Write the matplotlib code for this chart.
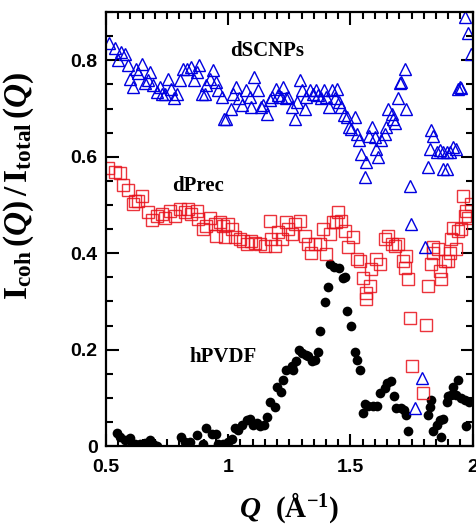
import matplotlib
matplotlib.use("Agg")
import matplotlib.pyplot as plt
from matplotlib.ticker import MultipleLocator

# dSCNPs (blue triangles)
q_scnp = [0.514, 0.537, 0.550, 0.560, 0.578, 0.591, 0.598, 0.612, 0.625, 0.632,
          0.646, 0.659, 0.673, 0.680, 0.693, 0.707, 0.721, 0.728, 0.741, 0.755,
          0.768, 0.778, 0.792, 0.802, 0.816, 0.832, 0.846, 0.860, 0.873, 0.882,
          0.891, 0.905, 0.911, 0.925, 0.939, 0.950, 0.959, 0.973, 0.982, 0.993,
          1.010, 1.020, 1.031, 1.045, 1.055, 1.072, 1.089, 1.095, 1.106, 1.120,
          1.136, 1.143, 1.157, 1.170, 1.181, 1.195, 1.204, 1.218, 1.225, 1.236,
          1.245, 1.259, 1.272, 1.282, 1.293, 1.300, 1.313, 1.320, 1.334, 1.347,
          1.358, 1.368, 1.381, 1.391, 1.402, 1.413, 1.426, 1.436, 1.445, 1.454,
          1.463, 1.473, 1.484, 1.495, 1.504, 1.518, 1.527, 1.535, 1.545, 1.559,
          1.565, 1.576, 1.590, 1.599, 1.606, 1.613, 1.627, 1.640, 1.647, 1.654,
          1.668, 1.674, 1.681, 1.695, 1.702, 1.708, 1.722, 1.729, 1.742, 1.749,
          1.763, 1.794, 1.804, 1.818, 1.824, 1.831, 1.838, 1.852, 1.865, 1.879,
          1.879, 1.893, 1.893, 1.906, 1.920, 1.933, 1.940, 1.947, 1.954, 1.967,
          1.981, 1.991]
r_scnp = [0.835, 0.825, 0.801, 0.818, 0.814, 0.790, 0.762, 0.745, 0.783, 0.773,
          0.792, 0.752, 0.759, 0.775, 0.748, 0.735, 0.745, 0.731, 0.731, 0.762,
          0.741, 0.721, 0.731, 0.759, 0.783, 0.783, 0.787, 0.759, 0.776, 0.790,
          0.731, 0.731, 0.748, 0.762, 0.780, 0.755, 0.738, 0.724, 0.679, 0.678,
          0.700, 0.731, 0.745, 0.721, 0.707, 0.738, 0.724, 0.703, 0.766, 0.738,
          0.703, 0.707, 0.689, 0.717, 0.724, 0.741, 0.728, 0.724, 0.745, 0.721,
          0.724, 0.703, 0.679, 0.714, 0.759, 0.738, 0.700, 0.724, 0.738, 0.731,
          0.738, 0.728, 0.721, 0.738, 0.724, 0.703, 0.738, 0.721, 0.741, 0.714,
          0.703, 0.686, 0.682, 0.662, 0.658, 0.682, 0.648, 0.634, 0.606, 0.558,
          0.589, 0.644, 0.662, 0.641, 0.617, 0.600, 0.634, 0.648, 0.662, 0.700,
          0.689, 0.679, 0.669, 0.721, 0.752, 0.755, 0.783, 0.700, 0.540, 0.460,
          0.078, 0.141, 0.412, 0.578, 0.617, 0.655, 0.644, 0.610, 0.613, 0.610,
          0.575, 0.610, 0.575, 0.610, 0.620, 0.617, 0.741, 0.745, 0.743, 0.890,
          0.856, 0.814]

# dPrec (red squares)
q_prec = [0.510, 0.537, 0.557, 0.571, 0.591, 0.612, 0.619, 0.632, 0.646, 0.673,
          0.687, 0.707, 0.728, 0.741, 0.762, 0.782, 0.802, 0.823, 0.837, 0.850,
          0.871, 0.877, 0.898, 0.911, 0.925, 0.946, 0.952, 0.966, 0.980, 0.986,
          1.000, 1.014, 1.027, 1.048, 1.061, 1.075, 1.095, 1.109, 1.129, 1.150,
          1.170, 1.177, 1.191, 1.204, 1.222, 1.236, 1.245, 1.259, 1.272, 1.293,
          1.313, 1.327, 1.337, 1.354, 1.375, 1.388, 1.402, 1.416, 1.429, 1.443,
          1.450, 1.463, 1.477, 1.490, 1.511, 1.525, 1.538, 1.552, 1.565, 1.565,
          1.579, 1.586, 1.606, 1.620, 1.640, 1.654, 1.668, 1.681, 1.695, 1.715,
          1.722, 1.729, 1.736, 1.742, 1.753, 1.797, 1.808, 1.818, 1.831, 1.838,
          1.838, 1.858, 1.865, 1.872, 1.886, 1.899, 1.906, 1.913, 1.920, 1.933,
          1.940, 1.954, 1.960, 1.967, 1.974, 1.981, 1.991]
r_prec = [0.576, 0.568, 0.567, 0.542, 0.530, 0.502, 0.509, 0.509, 0.519, 0.486,
          0.469, 0.478, 0.481, 0.474, 0.488, 0.478, 0.492, 0.485, 0.492, 0.481,
          0.488, 0.471, 0.450, 0.457, 0.474, 0.460, 0.436, 0.464, 0.457, 0.433,
          0.460, 0.450, 0.433, 0.429, 0.426, 0.419, 0.426, 0.422, 0.419, 0.415,
          0.467, 0.429, 0.415, 0.443, 0.429, 0.464, 0.450, 0.439, 0.460, 0.467,
          0.436, 0.419, 0.400, 0.419, 0.419, 0.450, 0.398, 0.439, 0.464, 0.464,
          0.485, 0.467, 0.446, 0.412, 0.433, 0.387, 0.384, 0.349, 0.318, 0.304,
          0.332, 0.367, 0.387, 0.377, 0.429, 0.436, 0.419, 0.415, 0.419, 0.384,
          0.370, 0.394, 0.346, 0.266, 0.167, 0.111, 0.252, 0.332, 0.377, 0.401,
          0.412, 0.408, 0.363, 0.346, 0.384, 0.384, 0.401, 0.429, 0.453, 0.408,
          0.446, 0.450, 0.519, 0.478, 0.488, 0.474, 0.502]

# hPVDF (black circles)
q_pvdf = [0.544, 0.557, 0.578, 0.598, 0.605, 0.619, 0.639, 0.659, 0.680, 0.693,
          0.707, 0.809, 0.823, 0.843, 0.873, 0.898, 0.911, 0.932, 0.950, 0.959,
          0.980, 1.000, 1.014, 1.027, 1.041, 1.055, 1.075, 1.089, 1.102, 1.116,
          1.132, 1.147, 1.157, 1.170, 1.191, 1.198, 1.218, 1.225, 1.238, 1.259,
          1.265, 1.279, 1.290, 1.300, 1.317, 1.327, 1.341, 1.354, 1.368, 1.375,
          1.397, 1.409, 1.416, 1.432, 1.454, 1.469, 1.477, 1.486, 1.504, 1.518,
          1.525, 1.541, 1.552, 1.559, 1.572, 1.593, 1.609, 1.620, 1.640, 1.650,
          1.664, 1.677, 1.688, 1.708, 1.718, 1.729, 1.736, 1.818, 1.824, 1.831,
          1.838, 1.852, 1.865, 1.872, 1.879, 1.893, 1.899, 1.913, 1.920, 1.933,
          1.940, 1.954, 1.967, 1.974, 1.985]
r_pvdf = [0.028, 0.019, 0.012, 0.016, 0.002, 0.004, 0.005, 0.007, 0.012, 0.005,
          0.001, 0.019, 0.009, 0.009, 0.023, 0.005, 0.037, 0.026, 0.024, 0.004,
          0.004, 0.009, 0.014, 0.037, 0.033, 0.044, 0.054, 0.057, 0.044, 0.047,
          0.041, 0.044, 0.061, 0.092, 0.082, 0.123, 0.113, 0.137, 0.158, 0.165,
          0.158, 0.176, 0.200, 0.193, 0.189, 0.186, 0.176, 0.179, 0.196, 0.238,
          0.299, 0.329, 0.377, 0.372, 0.370, 0.349, 0.351, 0.280, 0.248, 0.196,
          0.179, 0.158, 0.068, 0.087, 0.083, 0.083, 0.083, 0.110, 0.120, 0.130,
          0.134, 0.103, 0.078, 0.078, 0.075, 0.064, 0.031, 0.064, 0.082, 0.096,
          0.032, 0.044, 0.054, 0.019, 0.057, 0.092, 0.103, 0.106, 0.123, 0.106,
          0.137, 0.099, 0.096, 0.041, 0.092]

x_ticks = [0.5, 1.0, 1.5, 2.0]
x_ticklabels = ['0.5', '1', '1.5', '2']
y_ticks = [0, 0.2, 0.4, 0.6, 0.8]
y_ticklabels = ['0', '0.2', '0.4', '0.6', '0.8']

plt.rcParams['mathtext.fontset'] = 'custom'
plt.rcParams['mathtext.rm'] = 'Liberation Serif:bold'
plt.rcParams['mathtext.it'] = 'Liberation Serif:bold:italic'
plt.rcParams['mathtext.bf'] = 'Liberation Serif:bold'

fig = plt.figure(figsize=(4.77, 5.26), dpi=100)
ax = fig.add_axes([0.222, 0.152, 0.769, 0.825])

ax.plot(q_pvdf, r_pvdf, 'o', color='black', ms=7, mew=0)
ax.plot(q_prec, r_prec, 's', mfc='none', mec='#e8101a', ms=8.5, mew=1.0, alpha=0.85)
ax.plot(q_scnp, r_scnp, '^', mfc='none', mec='#0000e0', ms=8, mew=1.0)

ax.set_xlim(0.5, 2.0)
ax.set_ylim(0, 0.9)
ax.set_xticks(x_ticks)
ax.set_xticklabels(x_ticklabels)
ax.set_yticks(y_ticks)
ax.set_yticklabels(y_ticklabels)
ax.xaxis.set_minor_locator(MultipleLocator(0.05))
ax.yaxis.set_minor_locator(MultipleLocator(0.05))

ax.tick_params(which='both', direction='in', top=True, right=True, width=1.5)
ax.tick_params(which='major', length=9)
ax.tick_params(which='minor', length=5)
ax.tick_params(axis='x', pad=9)
ax.tick_params(axis='y', pad=6)
for lab in ax.get_xticklabels() + ax.get_yticklabels():
    lab.set_fontfamily('Liberation Sans')
    lab.set_fontweight('bold')
    lab.set_fontsize(14)
for s in ax.spines.values():
    s.set_linewidth(1.6)

ax.set_xlabel(r'$Q\ \ (\mathrm{\AA}^{-1})$', fontsize=21)
ax.xaxis.set_label_coords(0.5, -0.102)
ax.set_ylabel(r'$\mathrm{I}_{\mathrm{coh}}\,(Q)\,/\,\mathrm{I}_{\mathrm{total}}\,(Q)$',
              fontsize=24)
ax.yaxis.set_label_coords(-0.19, 0.6)

ax.text(1.158, 0.82, 'dSCNPs', family='Liberation Serif', weight='bold',
        fontsize=15, ha='center', va='center')
ax.text(0.876, 0.54, 'dPrec', family='Liberation Serif', weight='bold',
        fontsize=15, ha='center', va='center')
ax.text(0.978, 0.185, 'hPVDF', family='Liberation Serif', weight='bold',
        fontsize=15, ha='center', va='center')

fig.savefig('out.png', dpi=100)
